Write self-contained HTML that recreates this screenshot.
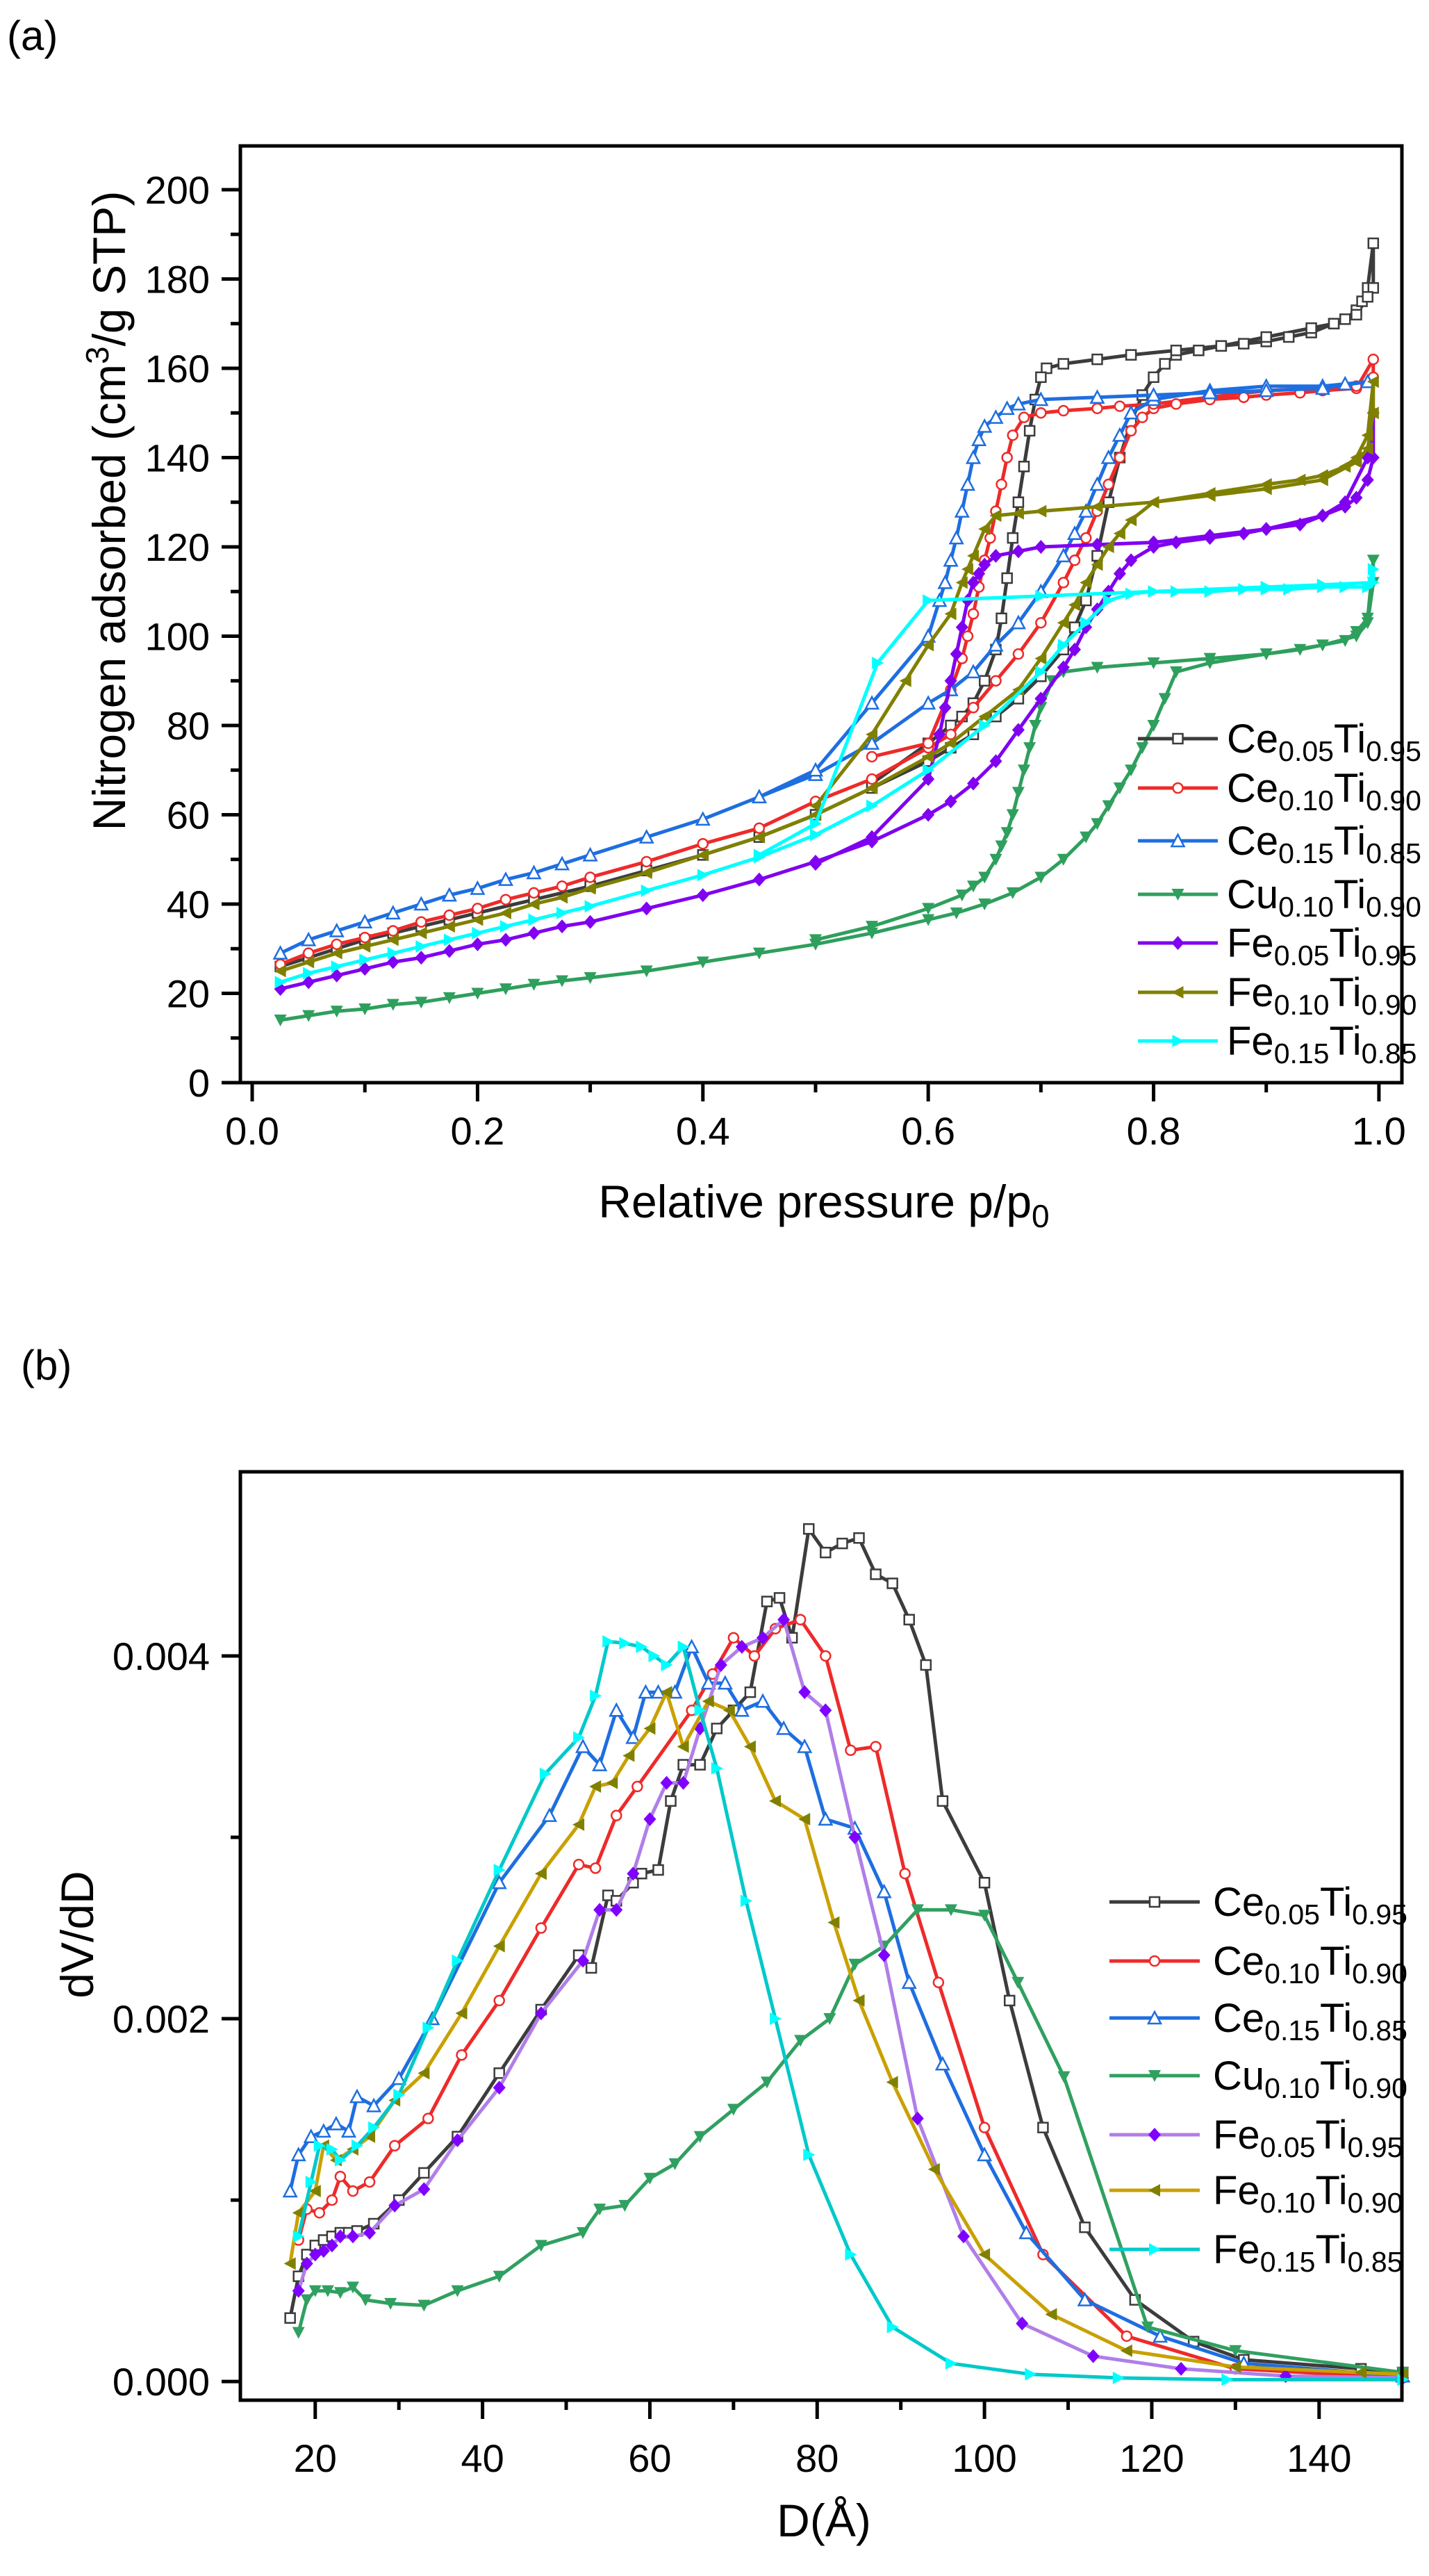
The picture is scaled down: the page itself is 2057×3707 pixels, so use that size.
<!DOCTYPE html>
<html><head><meta charset="utf-8"><style>
html,body{margin:0;padding:0;background:#fff}
svg{display:block;font-family:"Liberation Sans",Arial,sans-serif}
</style></head><body>
<svg id="fig" width="2057" height="3707" viewBox="0 0 2057 3707" xmlns="http://www.w3.org/2000/svg">
<rect width="2057" height="3707" fill="#fff"/>
<g id="ga"></g>
<g id="gb"></g>
</svg>
<script>
// ---------- Chart (a) data: relative pressure vs N2 adsorbed (adsorption then desorption) ----------
const aXTicks = [0.0,0.2,0.4,0.6,0.8,1.0];
const aXTickLabels = ["0.0","0.2","0.4","0.6","0.8","1.0"];
const aYTicks = [0,20,40,60,80,100,120,140,160,180,200];
const aSeriesNames = ["Ce0.05Ti0.95","Ce0.10Ti0.90","Ce0.15Ti0.85","Cu0.10Ti0.90","Fe0.05Ti0.95","Fe0.10Ti0.90","Fe0.15Ti0.85"];
const aCe05 = [[0.025,26],[0.05,28],[0.075,30],[0.1,32],[0.125,33.5],[0.15,35],[0.175,36.5],[0.2,38],[0.25,41],[0.3,44],[0.35,47.5],[0.4,51],[0.45,55],[0.5,60],[0.55,66],[0.6,72],[0.62,75],[0.64,78],[0.66,82],[0.68,86],[0.7,91],[0.72,97],[0.73,102],[0.74,108],[0.75,118],[0.76,130],[0.77,140],[0.78,148],[0.79,154],[0.8,158],[0.81,161],[0.82,163],[0.84,164],[0.86,165],[0.88,165.5],[0.9,166],[0.92,167],[0.94,168],[0.96,170],[0.97,171],[0.98,173],[0.985,175],[0.99,178],[0.995,188],
 [0.995,178],[0.99,176],[0.98,172],[0.96,170],[0.94,169],[0.9,167],[0.86,165],[0.82,164],[0.78,163],[0.75,162],[0.72,161],[0.705,160],[0.7,158],[0.695,153],[0.69,146],[0.685,138],[0.68,130],[0.675,122],[0.67,113],[0.665,104],[0.66,97],[0.65,90],[0.64,85],[0.63,82],[0.62,80],[0.6,76],[0.55,67]];
const aCe10 = [[0.025,26.5],[0.05,29],[0.075,31],[0.1,32.5],[0.125,34],[0.15,36],[0.175,37.5],[0.2,39],[0.225,41],[0.25,42.5],[0.275,44],[0.3,46],[0.35,49.5],[0.4,53.5],[0.45,57],[0.5,63],[0.55,68],[0.6,75],[0.62,78],[0.64,84],[0.66,90],[0.68,96],[0.7,103],[0.72,112],[0.73,117],[0.74,122],[0.75,128],[0.76,134],[0.77,140],[0.78,146],[0.79,149],[0.8,151],[0.82,152],[0.85,153],[0.88,153.5],[0.9,154],[0.93,154.5],[0.95,155],[0.98,155.5],[0.995,162],
 [0.995,158],[0.98,156],[0.9,155],[0.8,152],[0.77,151.5],[0.75,151],[0.72,150.5],[0.7,150],[0.685,149],[0.675,145],[0.67,140],[0.665,134],[0.66,128],[0.655,122],[0.65,117],[0.645,111],[0.64,105],[0.635,100],[0.63,95],[0.62,88],[0.6,76],[0.55,73]];
const aCe15 = [[0.025,29],[0.05,32],[0.075,34],[0.1,36],[0.125,38],[0.15,40],[0.175,42],[0.2,43.5],[0.225,45.5],[0.25,47],[0.275,49],[0.3,51],[0.35,55],[0.4,59],[0.45,64],[0.5,69],[0.55,76],[0.6,85],[0.62,88],[0.64,92],[0.66,98],[0.68,103],[0.7,110],[0.72,118],[0.73,123],[0.74,128],[0.75,134],[0.76,140],[0.77,145],[0.78,150],[0.8,153],[0.85,155],[0.9,156],[0.95,156],[0.97,156.5],[0.99,157],
 [0.99,157],[0.95,155.5],[0.9,155],[0.85,154.5],[0.8,154],[0.75,153.5],[0.7,153],[0.68,152],[0.67,151],[0.66,149],[0.65,147],[0.645,144],[0.64,140],[0.635,134],[0.63,128],[0.625,122],[0.62,117],[0.615,112],[0.61,108],[0.6,100],[0.55,85],[0.5,70],[0.45,64]];
const aCu10 = [[0.025,14],[0.05,15],[0.075,16],[0.1,16.5],[0.125,17.5],[0.15,18],[0.175,19],[0.2,20],[0.225,21],[0.25,22],[0.275,22.8],[0.3,23.5],[0.35,25],[0.4,27],[0.45,29],[0.5,31],[0.55,33.5],[0.6,36.5],[0.625,38],[0.65,40],[0.675,42.5],[0.7,46],[0.72,50],[0.74,55],[0.75,58],[0.76,62],[0.77,66],[0.78,70],[0.79,75],[0.8,80],[0.81,86],[0.82,92],[0.85,94],[0.9,96],[0.93,97],[0.95,98],[0.97,99],[0.98,101],[0.99,104],[0.995,117],
 [0.995,112],[0.99,103],[0.98,100],[0.95,98],[0.9,96],[0.85,95],[0.8,94],[0.75,93],[0.72,92],[0.71,90],[0.7,84],[0.695,80],[0.69,75],[0.685,70],[0.68,65],[0.675,60],[0.67,56],[0.665,53],[0.66,50],[0.65,46],[0.64,44],[0.63,42],[0.6,39],[0.55,35],[0.5,32]];
const aFe05 = [[0.025,21],[0.05,22.5],[0.075,24],[0.1,25.5],[0.125,27],[0.15,28],[0.175,29.5],[0.2,31],[0.225,32],[0.25,33.5],[0.275,35],[0.3,36],[0.35,39],[0.4,42],[0.45,45.5],[0.5,49.5],[0.55,54],[0.6,60],[0.62,63],[0.64,67],[0.66,72],[0.68,79],[0.7,86],[0.72,93],[0.73,97],[0.74,102],[0.75,106],[0.76,110],[0.77,114],[0.78,117],[0.8,120],[0.82,121],[0.85,122],[0.88,123],[0.9,124],[0.93,125],[0.95,127],[0.97,129],[0.98,131],[0.99,135],[0.995,140],
 [0.995,150],[0.99,140],[0.97,130],[0.95,127],[0.9,124],[0.85,122.5],[0.8,121],[0.75,120.5],[0.7,120],[0.68,119],[0.66,118],[0.65,116],[0.645,114],[0.64,112],[0.635,108],[0.63,102],[0.625,96],[0.62,90],[0.615,84],[0.61,78],[0.6,68],[0.55,55],[0.5,49]];
const aFe10 = [[0.025,25],[0.05,27],[0.075,29],[0.1,30.5],[0.125,32],[0.15,33.5],[0.175,35],[0.2,36.5],[0.225,38],[0.25,40],[0.275,41.5],[0.3,43.5],[0.35,47],[0.4,51],[0.45,55],[0.5,60],[0.55,66],[0.6,73],[0.62,76],[0.65,82],[0.68,88],[0.7,95],[0.72,103],[0.73,107],[0.74,112],[0.75,116],[0.76,120],[0.77,123],[0.78,126],[0.8,130],[0.85,132],[0.9,134],[0.93,135],[0.95,136],[0.97,138],[0.98,140],[0.99,145],[0.995,157],
 [0.995,150],[0.99,142],[0.98,139],[0.95,135],[0.9,133],[0.85,131.5],[0.8,130],[0.75,129],[0.7,128],[0.68,127.5],[0.66,127],[0.65,124],[0.64,118],[0.635,115],[0.63,112],[0.62,105],[0.6,98],[0.58,90],[0.55,78],[0.5,62]];
const aFe15 = [[0.025,22.5],[0.05,24.5],[0.075,26],[0.1,27.5],[0.125,29],[0.15,30.5],[0.175,32],[0.2,33.5],[0.225,35],[0.25,36.5],[0.275,38],[0.3,39.5],[0.35,43],[0.4,46.5],[0.45,50.5],[0.5,55.5],[0.55,62],[0.6,70],[0.65,80],[0.7,92],[0.72,98],[0.74,103],[0.76,108],[0.78,109.5],[0.8,110],[0.82,110],[0.85,110],[0.88,110.5],[0.9,110.5],[0.92,110.5],[0.95,111],[0.97,111],[0.99,111],[0.995,115],
 [0.995,112],[0.95,111.5],[0.9,111],[0.8,110],[0.7,109],[0.6,108],[0.555,94],[0.5,58],[0.45,51]];

// ---------- Chart (b) data: pore diameter D (Å) vs dV/dD ----------
const bXTicks = [20,40,60,80,100,120,140];
const bYTicks = [0,0.002,0.004];
const bYTickLabels = ["0.000","0.002","0.004"];
const bCe05 = [[17,0.00035],[18,0.00058],[19,0.0007],[20,0.00075],[21,0.00078],[22,0.0008],[23,0.00082],[24,0.00082],[25,0.00083],[27,0.00087],[30,0.001],[33,0.00115],[37,0.00135],[42,0.0017],[47,0.00205],[51.5,0.00235],[53,0.00228],[55,0.00268],[56,0.00265],[58,0.00275],[59,0.0028],[61,0.00282],[62.5,0.0032],[64,0.0034],[66,0.0034],[68,0.0036],[70,0.0037],[72,0.0038],[74,0.0043],[75.5,0.00432],[77,0.0041],[79,0.0047],[81,0.00457],[83,0.00462],[85,0.00465],[87,0.00445],[89,0.0044],[91,0.0042],[93,0.00395],[95,0.0032],[100,0.00275],[103,0.0021],[107,0.0014],[112,0.00085],[118,0.00045],[125,0.00022],[131,0.00012],[145,0.00007],[150,0.00005]];
const bCe10 = [[18,0.00078],[19,0.00095],[20.5,0.00093],[22,0.001],[23,0.00113],[24.5,0.00105],[26.5,0.0011],[29.5,0.0013],[33.5,0.00145],[37.5,0.0018],[42,0.0021],[47,0.0025],[51.5,0.00285],[53.5,0.00283],[56,0.00312],[58.5,0.00328],[65,0.0037],[67.5,0.0039],[70,0.0041],[72.5,0.004],[75,0.00415],[78,0.0042],[81,0.004],[84,0.00348],[87,0.0035],[90.5,0.0028],[94.5,0.0022],[100,0.0014],[107,0.0007],[117,0.00025],[130,0.00007],[150,0.00002]];
const bCe15 = [[17,0.00105],[18,0.00125],[19.5,0.00135],[21,0.00138],[22.5,0.00142],[24,0.00138],[25,0.00157],[27,0.00152],[30,0.00167],[34,0.002],[42,0.00275],[48,0.00312],[52,0.0035],[54,0.0034],[56,0.0037],[58,0.00355],[59.5,0.0038],[61,0.0038],[63,0.0038],[65,0.00405],[67,0.00385],[69,0.00385],[71,0.0037],[73.5,0.00375],[76,0.0036],[78.5,0.0035],[81,0.0031],[84.5,0.00305],[88,0.0027],[91,0.0022],[95,0.00175],[100,0.00125],[105,0.00082],[112,0.00045],[121,0.00025],[131,0.0001],[150,0.00003]];
const bCu10 = [[18,0.00027],[19,0.00045],[20,0.0005],[21.5,0.0005],[23,0.00049],[24.5,0.00052],[26,0.00045],[29,0.00043],[33,0.00042],[37,0.0005],[42,0.00058],[47,0.00075],[52,0.00082],[54,0.00095],[57,0.00097],[60,0.00112],[63,0.0012],[66,0.00135],[70,0.0015],[74,0.00165],[78,0.00188],[81.5,0.002],[84.5,0.0023],[88,0.0024],[92,0.0026],[96,0.0026],[100,0.00257],[104,0.0022],[109.5,0.00168],[119.5,0.0003],[130,0.00017],[150,0.00005]];
const bFe05 = [[18,0.0005],[19,0.00065],[20,0.0007],[21,0.00072],[22,0.00075],[23,0.0008],[24.5,0.0008],[26.5,0.00082],[29.5,0.00097],[33,0.00106],[37,0.00133],[42,0.00162],[47,0.00203],[52,0.00232],[54,0.0026],[56,0.0026],[58,0.0028],[60,0.0031],[62,0.0033],[64,0.0033],[66,0.0036],[68.5,0.00395],[71,0.00405],[73.5,0.0041],[76,0.0042],[78.5,0.0038],[81,0.0037],[84.5,0.003],[88,0.00235],[92,0.00145],[97.5,0.0008],[104.5,0.00032],[113,0.00014],[123.5,0.00007],[136,0.00003],[150,0.00002]];
const bFe10 = [[17,0.00065],[18,0.00093],[20,0.00105],[21,0.0013],[22.5,0.00122],[24.5,0.00128],[26.5,0.00135],[29.5,0.00155],[33,0.0017],[37.5,0.00203],[42,0.0024],[47,0.0028],[51.5,0.00307],[53.5,0.00328],[55.5,0.0033],[57.5,0.00345],[60,0.0036],[62,0.0038],[64,0.0035],[67,0.00375],[69.5,0.0037],[72,0.0035],[75,0.0032],[78.5,0.0031],[82,0.00253],[85,0.0021],[89,0.00165],[94,0.00117],[100,0.0007],[108,0.00037],[117,0.00017],[130,0.00008],[145,0.00005],[150,0.00004]];
const bFe15 = [[18,0.0008],[19.5,0.0011],[20.5,0.0013],[22,0.00128],[23,0.00122],[25,0.0013],[27,0.0014],[30,0.00158],[33.5,0.00195],[37,0.00232],[42,0.00282],[47.5,0.00335],[51.5,0.00355],[53.5,0.00378],[55,0.00408],[57,0.00407],[59,0.00405],[60.5,0.004],[62,0.00395],[64,0.00405],[66,0.0037],[68,0.00338],[71.5,0.00265],[75,0.002],[79,0.00125],[84,0.0007],[89,0.0003],[96,0.0001],[105.5,0.00004],[116,0.00002],[129,0.00001],[150,0.00001]];

const NS = "http://www.w3.org/2000/svg";
function mk(tag, attrs, parent){ const e=document.createElementNS(NS,tag); for(const k in attrs) e.setAttribute(k,attrs[k]); parent.appendChild(e); return e; }

function marker(g, type, x, y, color, s){
  let e;
  const h=s/2;
  if(type==="square"){ e=mk("rect",{x:x-h+1,y:y-h+1,width:s-2,height:s-2,fill:"#fff",stroke:color,"stroke-width":2.5},g); }
  else if(type==="circle"){ e=mk("circle",{cx:x,cy:y,r:h-1,fill:"#fff",stroke:color,"stroke-width":2.5},g); }
  else if(type==="triUp"){ e=mk("polygon",{points:`${x},${y-h-1} ${x+h+1},${y+h} ${x-h-1},${y+h}`,fill:"#fff",stroke:color,"stroke-width":2.5},g); }
  else if(type==="triDown"){ e=mk("polygon",{points:`${x-h-1},${y-h} ${x+h+1},${y-h} ${x},${y+h+1}`,fill:color},g); }
  else if(type==="diamond"){ e=mk("polygon",{points:`${x},${y-h-2} ${x+h+1},${y} ${x},${y+h+2} ${x-h-1},${y}`,fill:color},g); }
  else if(type==="triLeft"){ e=mk("polygon",{points:`${x-h-1},${y} ${x+h},${y-h-1} ${x+h},${y+h+1}`,fill:color},g); }
  else { e=mk("polygon",{points:`${x+h+1},${y} ${x-h},${y-h-1} ${x-h},${y+h+1}`,fill:color},g); }
  
  
}

function legendText(g, x, y, main1, sub1, main2, sub2, fs){
  const t=mk("text",{x:x,y:y,"font-size":fs,fill:"#000"},g);
  
  
  const sfs=Math.round(fs*0.7);
  const a=mk("tspan",{},t); a.textContent=main1;
  const b=mk("tspan",{"font-size":sfs,dy:12},t); b.textContent=sub1;
  const c=mk("tspan",{dy:-12},t); c.textContent=main2;
  const d=mk("tspan",{"font-size":sfs,dy:12},t); d.textContent=sub2;
}

function drawChart(g, cfg){
  const {L,R,T,B,xmin,xmax,ymin,ymax} = cfg;
  const sx = v => L + (v-xmin)/(xmax-xmin)*(R-L);
  const sy = v => B - (v-ymin)/(ymax-ymin)*(B-T);
  cfg.series.forEach(s=>{
    const sg=mk("g",{},g);
    
    
    const pts=s.data.map(p=>sx(p[0]).toFixed(1)+","+sy(p[1]).toFixed(1)).join(" ");
    const pl=mk("polyline",{points:pts,fill:"none",stroke:s.line,"stroke-width":5,"stroke-linejoin":"round"},sg);
    
    
    s.data.forEach(p=>marker(sg,s.mark,sx(p[0]),sy(p[1]),s.mcolor,cfg.ms));
  });
  const fr=mk("rect",{x:L,y:T,width:R-L,height:B-T,fill:"none",stroke:"#000","stroke-width":5},g);
  
  
  const xt=mk("g",{},g);
  
  
  cfg.xMinor.forEach(v=>{ mk("line",{x1:sx(v),x2:sx(v),y1:B,y2:B+14,stroke:"#000","stroke-width":5},xt); });
  cfg.xTicks.forEach((v,i)=>{
    mk("line",{x1:sx(v),x2:sx(v),y1:B,y2:B+27,stroke:"#000","stroke-width":5},xt);
    const t=mk("text",{x:sx(v),y:cfg.xLabelY,"font-size":56,"text-anchor":"middle"},xt);
    
    
    t.textContent=cfg.xLabels[i];
  });
  const yt=mk("g",{},g);
  
  
  cfg.yMinor.forEach(v=>{ mk("line",{x1:L,x2:L-14,y1:sy(v),y2:sy(v),stroke:"#000","stroke-width":5},yt); });
  cfg.yTicks.forEach((v,i)=>{
    mk("line",{x1:L,x2:L-27,y1:sy(v),y2:sy(v),stroke:"#000","stroke-width":5},yt);
    const t=mk("text",{x:L-44,y:sy(v)+20,"font-size":56,"text-anchor":"end"},yt);
    
    
    t.textContent=cfg.yLabels[i];
  });
  const lg=mk("g",{},g);
  
  
  cfg.series.forEach((s,i)=>{
    const y=cfg.legY[i];
    const eg=mk("g",{},lg);
    
    
    mk("line",{x1:cfg.legX1,x2:cfg.legX2,y1:y,y2:y,stroke:s.line,"stroke-width":5},eg);
    marker(eg,s.mark,(cfg.legX1+cfg.legX2)/2,y,s.mcolor,cfg.ms);
    legendText(eg,cfg.legTX,y+20,s.m1,s.s1,"Ti",s.s2,58);
  });
}

const names=[["Ce","0.05","0.95"],["Ce","0.10","0.90"],["Ce","0.15","0.85"],["Cu","0.10","0.90"],["Fe","0.05","0.95"],["Fe","0.10","0.90"],["Fe","0.15","0.85"]];
const marks=["square","circle","triUp","triDown","diamond","triLeft","triRight"];
const aLine=["#3c3c3c","#ee2a2a","#1e6ee0","#2e9f5d","#8000f0","#808000","#00ffff"];
const aMark=aLine;
const bLine=["#3c3c3c","#ee2a2a","#1e6ee0","#30a060","#b07ee8","#c9a000","#00c9c9"];
const bMark=["#3c3c3c","#ee2a2a","#1e6ee0","#30a060","#8000ff","#808000","#00ffff"];
const aData=[aCe05,aCe10,aCe15,aCu10,aFe05,aFe10,aFe15];
const bData=[bCe05,bCe10,bCe15,bCu10,bFe05,bFe10,bFe15];
function mkSeries(data,line,mc){ return data.map((d,i)=>({key:aSeriesNames[i].toLowerCase().replace(/\./g,''),data:d,line:line[i],mcolor:mc[i],mark:marks[i],m1:names[i][0],s1:names[i][1],s2:names[i][2]})); }

const ga=document.getElementById("ga");
drawChart(ga,{L:346,R:2018,T:210,B:1558,xmin:-0.0105,xmax:1.0204,ymin:0,ymax:209.8,ms:16,
  series:mkSeries(aData,aLine,aMark),
  xTicks:aXTicks,xLabels:aXTickLabels,xMinor:[0.1,0.3,0.5,0.7,0.9],xLabelY:1647,
  yTicks:aYTicks,yLabels:aYTicks.map(String),yMinor:[10,30,50,70,90,110,130,150,170,190],
  legY:[1063,1134,1210,1287,1357,1428,1498],legX1:1638,legX2:1753,legTX:1766});
const gb=document.getElementById("gb");
drawChart(gb,{L:346,R:2018,T:2118,B:3454,xmin:11.05,xmax:149.9,ymin:-0.000103,ymax:0.005015,ms:16,
  series:mkSeries(bData,bLine,bMark),
  xTicks:bXTicks,xLabels:bXTicks.map(String),xMinor:[30,50,70,90,110,130],xLabelY:3557,
  yTicks:bYTicks,yLabels:bYTickLabels,yMinor:[0.001,0.003],
  legY:[2737,2822,2904,2987,3072,3152,3237],legX1:1597,legX2:1727,legTX:1746});

function title(txt,attrs,name){ const t=mk("text",attrs,document.getElementById("fig"));   t.textContent=txt; return t; }
title("(a)",{x:10,y:72,"font-size":60},"panel-label-a");
title("(b)",{x:30,y:1985,"font-size":60},"panel-label-b");
const yta=mk("text",{x:0,y:0,"font-size":66,"text-anchor":"middle",transform:"translate(180,735) rotate(-90)"},document.getElementById("fig"));


yta.innerHTML='Nitrogen adsorbed (cm<tspan font-size="46" dy="-24">3</tspan><tspan dy="24">/g  STP)</tspan>';
const xta=mk("text",{x:1186,y:1752,"font-size":66,"text-anchor":"middle"},document.getElementById("fig"));


xta.innerHTML='Relative pressure p/p<tspan font-size="46" dy="14">0</tspan>';
title("dV/dD",{x:0,y:0,"font-size":66,"text-anchor":"middle",transform:"translate(134,2784) rotate(-90)"},"y-axis-title-b");
title("D(Å)",{x:1186,y:3650,"font-size":66,"text-anchor":"middle"},"x-axis-title-b");
</script>
</body></html>
